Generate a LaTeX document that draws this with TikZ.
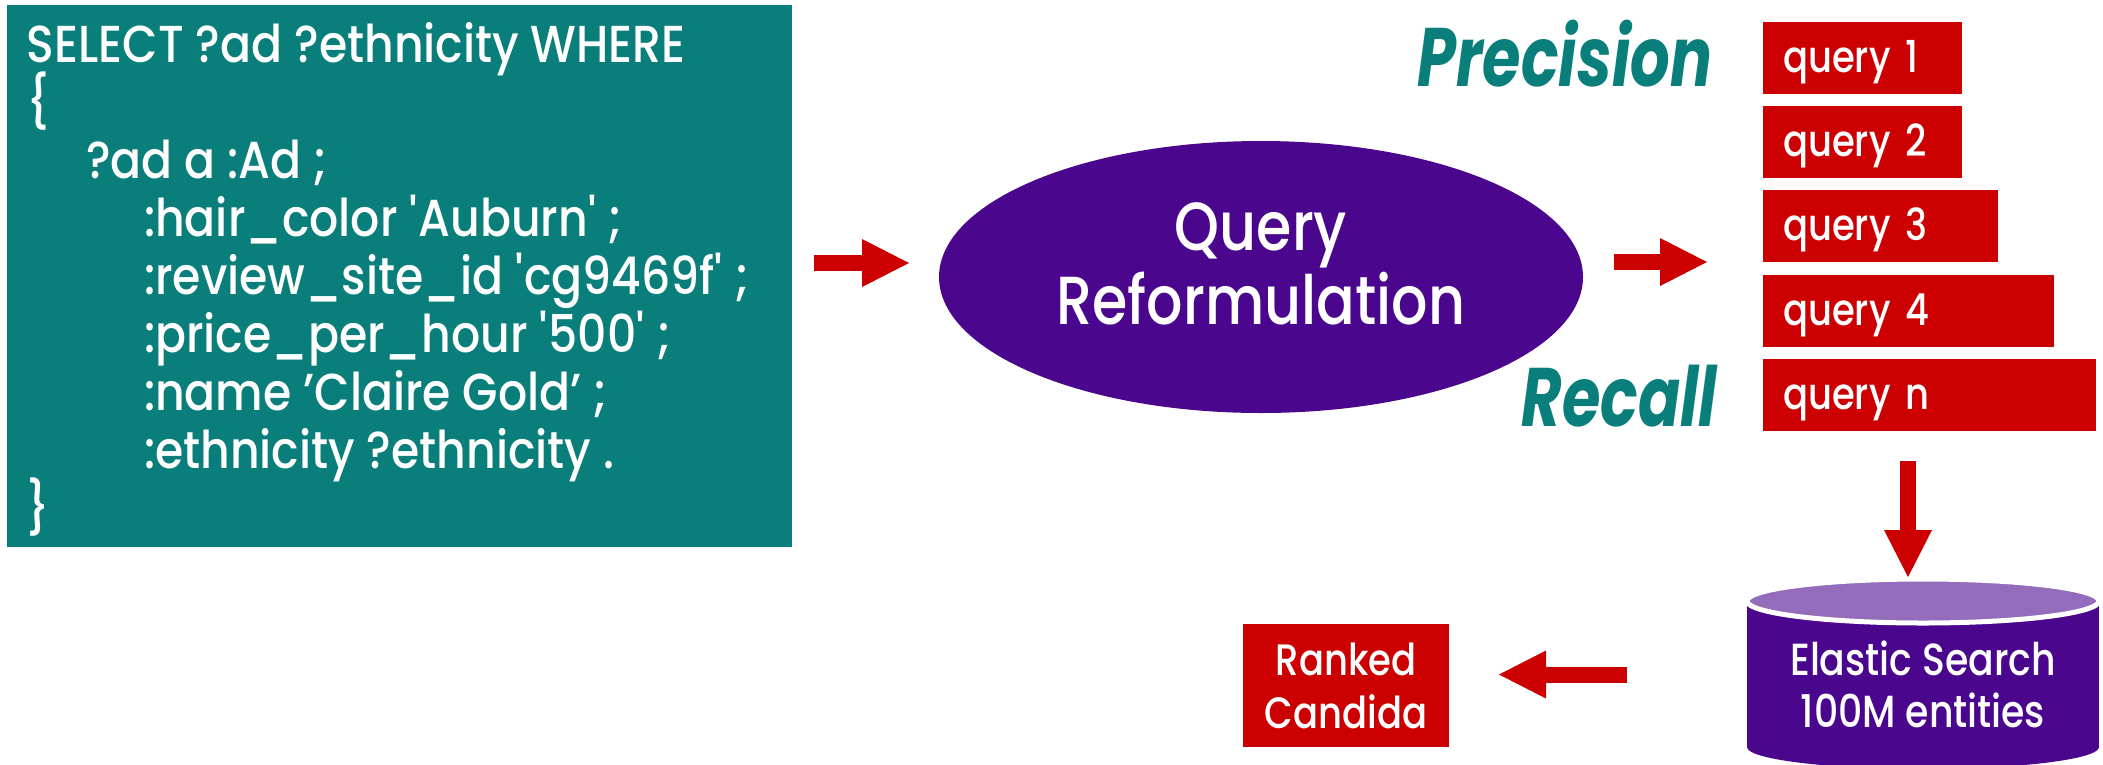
\documentclass[tikz,border=0pt]{standalone}
\usepackage{fontspec}
\setmainfont{Poppins}
\newfontfamily\geo[FakeStretch=0.84]{Poppins Medium}
\newfontfamily\geocode[FakeStretch=0.88]{Poppins Medium}
\newfontfamily\geobold[FakeStretch=0.75]{Poppins}
\usetikzlibrary{arrows.meta,shapes.geometric}

\definecolor{codeteal}{RGB}{9,126,122}
\definecolor{qred}{RGB}{204,0,0}
\definecolor{qpurple}{RGB}{74,6,140}
\definecolor{caplilac}{RGB}{147,108,188}

\begin{document}
\begin{tikzpicture}[x=1pt,y=-1pt,
  every node/.style={inner sep=0pt, outer sep=0pt},
  codeline/.style={anchor=base west, text=white, font=\geocode\fontsize{52}{52}\selectfont},
  qbox/.style={fill=qred, text=white, anchor=north west, minimum height=72pt,
    inner xsep=20pt, align=left, text height=32pt, text depth=4pt,
    font=\geo\fontsize{44}{44}\selectfont},
  blockarrow/.style={draw=qred, line width=16pt,
    -{Triangle[length=47pt, width=48pt, line width=0pt]}},
  slogan/.style={anchor=base east, text=codeteal,
    font=\geobold\fontsize{83}{83}\selectfont\bfseries\itshape},
  whitetext/.style={text=white, align=center}]

\useasboundingbox (0,0) rectangle (2103,764);

% SPARQL query panel
\node[fill=codeteal, minimum width=785pt, minimum height=542pt] (code) at (399.5,276) {};
\node[codeline] (l0) at (27,62)  {SELECT ?ad ?ethnicity WHERE};
\node[codeline] (l1) at (27,120) {\{};
\node[codeline] (l2) at (86,178) {?ad a :Ad ;};
\node[codeline] (l3) at (144,236) {:hair\_color \textquotesingle{}Auburn\textquotesingle{} ;};
\node[codeline] (l4) at (144,294) {:review\_site\_id \textquotesingle{}cg9469f\textquotesingle{} ;};
\node[codeline] (l5) at (144,352) {:price\_per\_hour \textquotesingle{}500\textquotesingle{} ;};
\node[codeline] (l6) at (144,410) {:name ’Claire Gold’ ;};
\node[codeline] (l7) at (144,468) {:ethnicity ?ethnicity .};
\node[codeline] (l8) at (27,526) {\}};

% reformulation step
\node[ellipse, fill=qpurple, minimum width=644pt, minimum height=272pt] (qr) at (1261,277) {};
\node[whitetext, font=\geo\fontsize{68}{74}\selectfont] (qrtext) at (1261,264) {Query\\Reformulation};

% precision / recall scale
\node[slogan] (prec) at (1712,86) {Precision};
\node[slogan] (rec) at (1717,426) {Recall};

% reformulated queries
\node[qbox, text width=159pt] (q1) at (1763,22)  {query 1};
\node[qbox, text width=159pt] (q2) at (1763,106) {query 2};
\node[qbox, text width=195pt] (q3) at (1763,190) {query 3};
\node[qbox, text width=251pt] (q4) at (1763,275) {query 4};
\node[qbox, text width=293pt] (qn) at (1763,359) {query n};

% search index
\fill[qpurple] (1747,606) rectangle (2099,747);
\fill[qpurple] (1923,747) ellipse[x radius=176, y radius=22];
\filldraw[fill=caplilac, draw=white, line width=5pt] (1923,601) ellipse[x radius=176, y radius=22];
\node[whitetext, font=\geo\fontsize{45}{52}\selectfont] (es) at (1923,684.5) {Elastic Search\\100M entities};

% ranked output
\node[fill=qred, minimum width=206pt, minimum height=123pt, whitetext,
  font=\geo\fontsize{44}{53}\selectfont] (ranked) at (1346,685.5) {Ranked\\Candida};

% flow arrows
\coordinate (a1s) at (814,263);  \coordinate (a1e) at (909,263);
\coordinate (a2s) at (1614,262); \coordinate (a2e) at (1707,262);
\coordinate (a3s) at (1908,461); \coordinate (a3e) at (1908,577);
\coordinate (a4s) at (1627,674.5); \coordinate (a4e) at (1499,674.5);
\draw[blockarrow] (a1s) -- (a1e);
\draw[blockarrow] (a2s) -- (a2e);
\draw[blockarrow] (a3s) -- (a3e);
\draw[blockarrow] (a4s) -- (a4e);
\end{tikzpicture}
\end{document}
